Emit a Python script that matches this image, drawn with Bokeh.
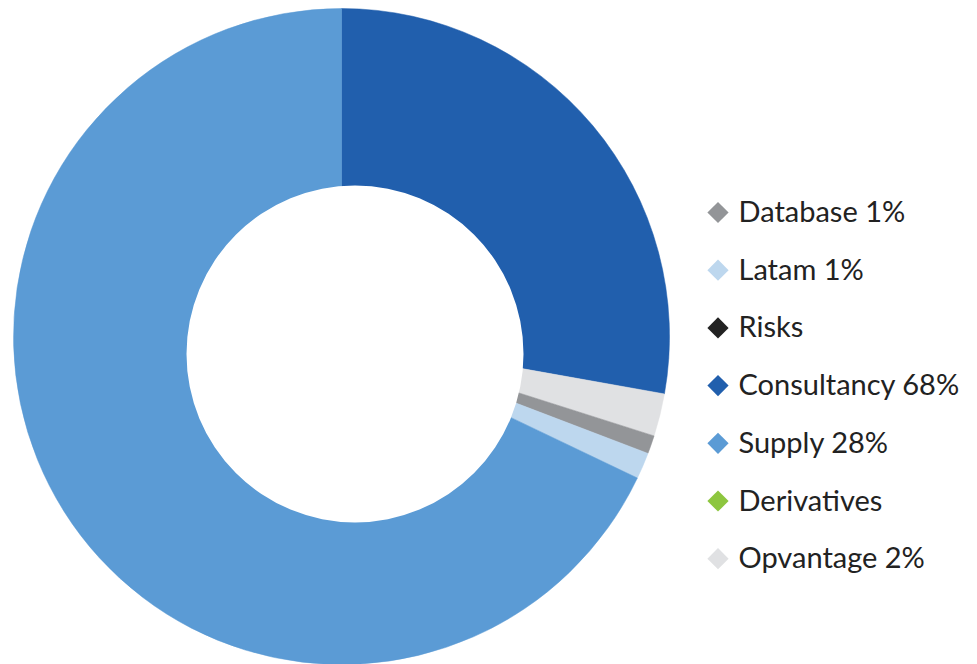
import math
from bokeh.plotting import figure
from bokeh.models import Range1d, ColumnDataSource
from bokeh.core.properties import value
from bokeh.embed import file_html
from bokeh.resources import INLINE

# Legend entries (as shown in the reference)
legend_labels = ["Database 1%", "Latam 1%", "Risks", "Consultancy 68%", "Supply 28%", "Derivatives", "Opvantage 2%"]
legend_colors = ["#939598", "#bdd7ee", "#222222", "#215fad", "#5b9bd5", "#8dc63f", "#e0e1e3"]

# Slices as drawn, clockwise from 12 o'clock (percent of the ring)
slice_names = ["Consultancy", "Opvantage", "Database", "Latam", "Supply"]
slice_values = [27.8, 2.1, 0.9, 1.3, 67.9]
slice_colors = ["#215fad", "#e0e1e3", "#939598", "#bdd7ee", "#5b9bd5"]

W, H = 977, 664

def py(y):  # page pixel y -> data y
    return H - y

p = figure(width=W, height=H, output_backend="svg", toolbar_location=None,
           x_range=Range1d(0, W), y_range=Range1d(0, H),
           min_border=0, outline_line_color=None)
p.axis.visible = False
p.grid.visible = False
p.background_fill_color = "white"
p.border_fill_color = "white"

total = sum(slice_values)
starts, ends = [], []
cum = 0.0
for v in slice_values:
    a0 = math.pi / 2 - 2 * math.pi * cum / total
    cum += v
    a1 = math.pi / 2 - 2 * math.pi * cum / total
    starts.append(a1)
    ends.append(a0)

src = ColumnDataSource(dict(name=slice_names, value=slice_values, color=slice_colors,
                            start=starts, end=ends))
cx, cy, R = 341, py(336), 328
p.wedge(x=cx, y=cy, radius=R, start_angle="start", end_angle="end",
        fill_color="color", line_color="color", line_width=0.5, source=src)

# donut hole
p.scatter(x=[354.5], y=[py(353.4)], size=2 * 168.5, marker="circle",
          fill_color="white", line_color=None)

# legend
row0, step = 212, 57.7
ly = [py(row0 + i * step) for i in range(len(legend_labels))]
lsrc = ColumnDataSource(dict(y=ly, label=legend_labels, color=legend_colors,
                             xm=[717.5] * len(ly), xt=[738] * len(ly)))
p.scatter(x="xm", y="y", marker="square", angle=math.pi / 4, size=15,
          fill_color="color", line_color=None, source=lsrc)
p.text(x="xt", y="y", text="label", source=lsrc, text_font=value("Lato"),
       text_font_size="29px", text_color="#222222", text_baseline="middle",
       text_align="left", y_offset=-2)

open("out.html", "w").write(file_html(p, INLINE))
